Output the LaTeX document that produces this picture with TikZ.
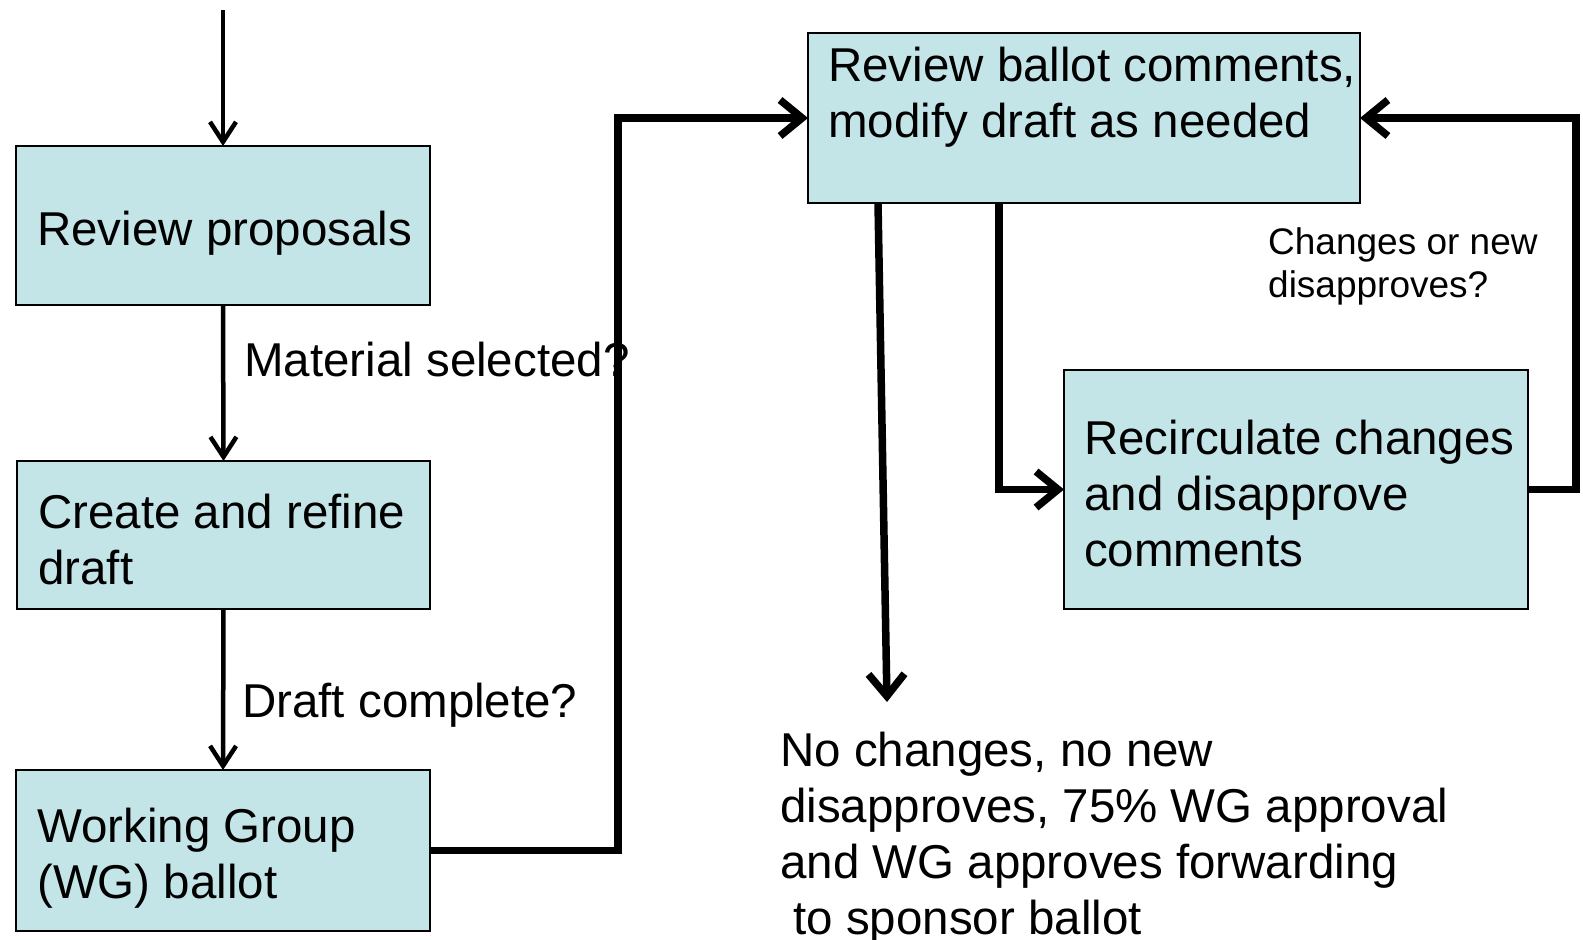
\documentclass[tikz,border=0pt]{standalone}
\usepackage{fontspec}
\setmainfont{Liberation Sans}
\usetikzlibrary{arrows.meta}
\definecolor{boxfill}{RGB}{196,229,232}
\begin{document}
\begin{tikzpicture}[x=1pt,y=-1pt,
  box/.style={draw=black, line width=2pt, fill=boxfill, anchor=north west, inner sep=0pt, outer sep=0pt},
  txt/.style={anchor=base west, inner sep=0pt, align=left, font=\fontsize{47.5}{56}\selectfont},
  smalltxt/.style={anchor=base west, inner sep=0pt, align=left, font=\fontsize{37}{43}\selectfont},
  thinarrow/.style={line width=4.5pt, -{Straight Barb[length=20pt,width=26pt]}},
  thickarrow/.style={line width=7.5pt, -{Straight Barb[length=22pt,width=36pt]}},
]
\fill[white] (0,0) rectangle (1583,940);
\useasboundingbox (0,0) rectangle (1583,940);

% boxes
\node[box, minimum width=414pt, minimum height=159pt] (b1) at (16,146) {};
\node[box, minimum width=413pt, minimum height=148pt] (b2) at (17,461) {};
\node[box, minimum width=414pt, minimum height=161pt] (b3) at (16,770) {};
\node[box, minimum width=552pt, minimum height=170pt] (b4) at (808,33) {};
\node[box, minimum width=464pt, minimum height=239pt] (b5) at (1064,370) {};

% box texts (anchor = baseline of last line)
\node[txt] (t1) at (37,245) {Review proposals};
\node[txt] (t2) at (38,584) {Create and refine\\draft};
\node[txt] (t3) at (37,898) {Working Group\\(WG) ballot};
\node[txt] (t4) at (828,137) {Review ballot comments,\\modify draft as needed};
\node[txt] (t5) at (1084,566) {Recirculate changes\\and disapprove\\comments};

% labels
\node[txt] (l1) at (244,376) {Material selected?};
\node[txt] (l2) at (242,717) {Draft complete?};
\node[smalltxt] (l3) at (1268,297) {Changes or new\\disapproves?};
\node[txt] (l4) at (780,934) {No changes, no new\\disapproves, 75\% WG approval\\and WG approves forwarding\\\hspace*{0.278em}to sponsor ballot};

% connectors
\coordinate (start) at (223,10);
\coordinate (endp) at (887,702);
\draw[thinarrow] (start) -- (b1.north);
\draw[thinarrow] (b1.south) -- (b2.north);
\draw[thinarrow] (b2.south) -- (b3.north);
\draw[thickarrow] (b3.east) -- ++(188,0) |- (b4.west);
\draw[thickarrow] ([xshift=191pt]b4.south west) |- (b5.west);
\draw[thickarrow] (b5.east) -- ++(48,0) |- (b4.east);
\draw[thickarrow] ([xshift=70pt]b4.south west) -- (endp);
\end{tikzpicture}
\end{document}
